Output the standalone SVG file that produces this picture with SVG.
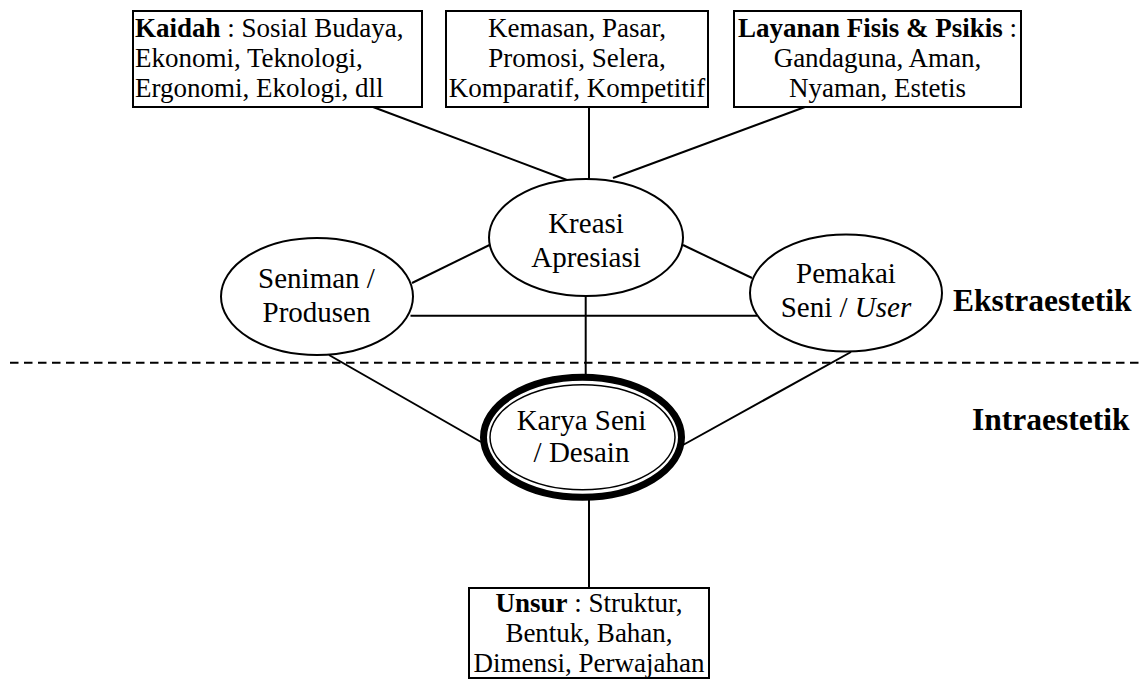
<svg xmlns="http://www.w3.org/2000/svg" width="1139" height="680" viewBox="0 0 1139 680">
<style>
.t{font-family:'Liberation Serif','Times New Roman',Times,'DejaVu Serif',serif}
.bx{font-size:27px}
.el{font-size:29px}
.lbl{font-size:31.5px;font-weight:bold}
.b{font-weight:bold}
.i{font-style:italic}
.box{fill:#fff;stroke:#000;stroke-width:2}
.ell{fill:#fff;stroke:#000;stroke-width:2}
.con line{stroke:#000;stroke-width:2}
</style>
<rect width="1139" height="680" fill="#fff"/>
<line x1="10" y1="362.7" x2="1139" y2="362.7" stroke="#000" stroke-width="2" stroke-dasharray="8.5 5.5"/>
<g class="con" id="connectors">
<line x1="373" y1="107" x2="567" y2="180"/>
<line x1="589" y1="107" x2="589" y2="179"/>
<line x1="805" y1="107" x2="613" y2="178"/>
<line x1="489.5" y1="245" x2="412" y2="283"/>
<line x1="683" y1="245" x2="752" y2="278"/>
<line x1="410.5" y1="315.7" x2="757" y2="315.7"/>
<line x1="585.7" y1="296" x2="585.7" y2="376"/>
<line x1="329" y1="355" x2="481" y2="442"/>
<line x1="851" y1="352" x2="683" y2="445"/>
<line x1="589" y1="498" x2="589" y2="588"/>
</g>
<g id="box-kaidah">
<rect class="box" x="133" y="11" width="289" height="96"/>
<text class="t bx" x="135" y="37"><tspan class="b">Kaidah</tspan> : Sosial Budaya,</text>
<text class="t bx" x="135" y="67">Ekonomi, Teknologi,</text>
<text class="t bx" x="135" y="97">Ergonomi, Ekologi, dll</text>
</g>
<g id="box-kemasan">
<rect class="box" x="446" y="11" width="262" height="96"/>
<text class="t bx" x="577" y="37" text-anchor="middle">Kemasan, Pasar,</text>
<text class="t bx" x="577" y="67" text-anchor="middle">Promosi, Selera,</text>
<text class="t bx" x="577" y="97" text-anchor="middle">Komparatif, Kompetitif</text>
</g>
<g id="box-layanan">
<rect class="box" x="734" y="11" width="287" height="96"/>
<text class="t bx" x="877.5" y="37" text-anchor="middle"><tspan class="b">Layanan Fisis &amp; Psikis</tspan> :</text>
<text class="t bx" x="877.5" y="67" text-anchor="middle">Gandaguna, Aman,</text>
<text class="t bx" x="877.5" y="97" text-anchor="middle">Nyaman, Estetis</text>
</g>
<g id="node-kreasi">
<ellipse class="ell" cx="586" cy="237.5" rx="97" ry="58.5"/>
<text class="t el" x="586" y="232.7" text-anchor="middle">Kreasi</text>
<text class="t el" x="586" y="266.7" text-anchor="middle">Apresiasi</text>
</g>
<g id="node-seniman">
<ellipse class="ell" cx="317" cy="296.5" rx="96" ry="58.5"/>
<text class="t el" x="316.5" y="288" text-anchor="middle">Seniman /</text>
<text class="t el" x="316.5" y="321.7" text-anchor="middle">Produsen</text>
</g>
<g id="node-pemakai">
<ellipse class="ell" cx="846" cy="293" rx="96" ry="58.5"/>
<text class="t el" x="846" y="283" text-anchor="middle">Pemakai</text>
<text class="t el" x="846" y="316.7" text-anchor="middle">Seni / <tspan class="i">User</tspan></text>
</g>
<g id="node-karya">
<ellipse cx="582.5" cy="437.3" rx="99" ry="60" fill="#fff" stroke="#000" stroke-width="7"/>
<ellipse cx="582.5" cy="437.3" rx="92.5" ry="52.5" fill="none" stroke="#000" stroke-width="1.5"/>
<text class="t el" x="581.5" y="430" text-anchor="middle">Karya Seni</text>
<text class="t el" x="581.5" y="461.7" text-anchor="middle">/ Desain</text>
</g>
<g id="box-unsur">
<rect class="box" x="469" y="588" width="240" height="90"/>
<text class="t bx" x="589" y="611.7" text-anchor="middle"><tspan class="b">Unsur</tspan> : Struktur,</text>
<text class="t bx" x="589" y="641.7" text-anchor="middle">Bentuk, Bahan,</text>
<text class="t bx" x="589" y="671.7" text-anchor="middle">Dimensi, Perwajahan</text>
</g>
<g id="label-ekstra">
<text class="t lbl" x="953" y="310.7">Ekstraestetik</text>
</g>
<g id="label-intra">
<text class="t lbl" x="972" y="430">Intraestetik</text>
</g>
</svg>
